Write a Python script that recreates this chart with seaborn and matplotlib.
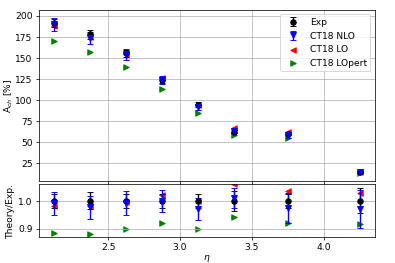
import matplotlib
matplotlib.use('Agg')
import matplotlib.pyplot as plt
import numpy as np
import seaborn as sns

# Charge asymmetry vs eta
eta = np.array([2.125, 2.375, 2.625, 2.875, 3.125, 3.375, 3.75, 4.25])

exp_val = np.array([191.5, 177.5, 155.0, 123.5, 94.5, 62.5, 60.0, 14.5])
exp_err = np.array([4.8, 5.3, 3.9, 3.1, 2.4, 2.25, 1.5, 0.64])

nlo_val = np.array([189.6, 173.2, 153.8, 123.5, 91.7, 63.1, 58.4, 14.07])
nlo_err = np.array([7.7, 7.1, 6.7, 4.9, 3.8, 2.3, 3.2, 0.99])

lo_val = np.array([188.1, 174.0, 154.2, 126.0, 94.5, 66.3, 62.0, 14.9])
lopert_val = np.array([169.5, 156.6, 139.3, 113.4, 84.9, 58.8, 55.1, 13.3])

fig = plt.figure(figsize=(6, 4), dpi=65.85)
ax1 = fig.add_axes([0.0987, 0.3118, 0.8506, 0.6502])
ax2 = fig.add_axes([0.0987, 0.1000, 0.8506, 0.2004], sharex=ax1)

# Top panel: absolute values
ax1.errorbar(eta, exp_val, yerr=exp_err, fmt='o', color='k', capsize=3, label='Exp')
ax1.errorbar(eta, nlo_val, yerr=nlo_err, fmt='v', color='b', capsize=3, label='CT18 NLO')
sns.scatterplot(x=eta, y=lo_val, marker='<', color='r', edgecolor='r', s=36, linewidth=1,
                ax=ax1, label='CT18 LO')
sns.scatterplot(x=eta, y=lopert_val, marker='>', color='g', edgecolor='g', s=36, linewidth=1,
                ax=ax1, label='CT18 LOpert')

handles, labels = ax1.get_legend_handles_labels()
order = [labels.index(l) for l in ['Exp', 'CT18 NLO', 'CT18 LO', 'CT18 LOpert']]
ax1.legend([handles[i] for i in order], [labels[i] for i in order], loc='upper right')

ax1.set_ylabel('A$_{ch}$ [%]')
ax1.yaxis.set_label_coords(-0.072, 0.5)
ax1.set_ylim(4, 207)
ax1.set_xlim(2.019, 4.356)
ax1.grid(True)
ax1.tick_params(labelbottom=False)

# Bottom panel: ratio to data
ax2.errorbar(eta, exp_val / exp_val, yerr=exp_err / exp_val, fmt='o', color='k', capsize=3)
ax2.errorbar(eta, nlo_val / exp_val, yerr=nlo_err / exp_val, fmt='v', color='b', capsize=3)
sns.scatterplot(x=eta, y=lo_val / exp_val, marker='<', color='r', edgecolor='r', s=36,
                linewidth=1, ax=ax2, legend=False)
sns.scatterplot(x=eta, y=lopert_val / exp_val, marker='>', color='g', edgecolor='g', s=36,
                linewidth=1, ax=ax2, legend=False)

ax2.set_ylim(0.871, 1.06)
ax2.set_yticks([0.9, 1.0])
ax2.set_ylabel('Theory/Exp.')
ax2.yaxis.set_label_coords(-0.072, 0.5)
ax2.set_xlabel(r'$\eta$', labelpad=1)
ax2.grid(True)

fig.savefig('out.png')
